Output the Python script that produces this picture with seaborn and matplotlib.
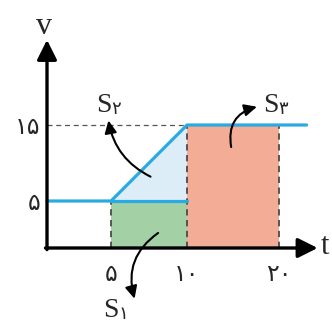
import numpy as np
import matplotlib
matplotlib.use('Agg')
import matplotlib.pyplot as plt
import seaborn as sns

sns.set_style('white')
plt.rcParams['font.family'] = ['DejaVu Sans']

# v(t) 折线
T = [0, 5, 10, 23]
V = [5, 5, 15, 15]

# 刻度
T_TICKS = [5, 10, 20]
T_LABELS = ['۵', '۱۰', '۲۰']
V_TICKS = [5, 15]
V_LABELS = ['۵', '۱۵']

# 面积 S1, S2, S3
S1_T = [5, 10]
S1_V = 5
S2_T = [5, 10, 10]
S2_V = [5, 15, 5]
S3_T = [10, 20]
S3_V = 15

BLUE = '#2aaae2'
GREEN = '#a4d0a6'
LIGHT_BLUE = '#ddedf8'
SALMON = '#f3ac96'

# 原图不是按比例画的，用分段线性的刻度
X_KNOTS, X_PIX = [0, 5, 10, 20], [0, 64, 140, 232]
Y_KNOTS, Y_PIX = [0, 5, 15], [0, 47, 123]


def warp(knots, pix):
    k = np.asarray(knots, float)
    p = np.asarray(pix, float)

    def interp(x, a, b):
        x = np.asarray(x, float)
        lo = (b[1] - b[0]) / (a[1] - a[0])
        hi = (b[-1] - b[-2]) / (a[-1] - a[-2])
        y = np.interp(x, a, b)
        y = np.where(x < a[0], b[0] + (x - a[0]) * lo, y)
        y = np.where(x > a[-1], b[-1] + (x - a[-1]) * hi, y)
        return y

    return (lambda x: interp(x, k, p)), (lambda y: interp(y, p, k))


fx, ix = warp(X_KNOTS, X_PIX)
fy, iy = warp(Y_KNOTS, Y_PIX)

fig = plt.figure(figsize=(3.32, 3.36), dpi=100)
ax = fig.add_axes([0, 0, 1, 1])
ax.set_xscale('function', functions=(fx, ix))
ax.set_yscale('function', functions=(fy, iy))
ax.set_xlim(float(ix(-47)), float(ix(285)))
ax.set_ylim(float(iy(-88)), float(iy(248)))

# 面积
ax.fill_between(S1_T, 0, S1_V, color=GREEN, lw=0, zorder=1)
ax.fill(S2_T, S2_V, color=LIGHT_BLUE, lw=0, zorder=1)
ax.fill_between(S3_T, 0, S3_V, color=SALMON, lw=0, zorder=1)

# 虚线
ax.plot([0, 10], [15, 15], ls=(0, (4, 3)), color='#555555', lw=0.9, zorder=2)
for t, v in [(5, 5), (10, 15), (20, 15)]:
    ax.plot([t, t], [0, v], ls=(0, (3.5, 2.5)), color='#4a4a4a', lw=1.3, zorder=2)

# v(t)
sns.lineplot(x=T, y=V, ax=ax, color=BLUE, lw=2.3, estimator=None, sort=False, zorder=3)
ax.plot(S1_T, [S1_V, S1_V], color=BLUE, lw=2.3, zorder=3)

# 坐标轴箭头
arrow = dict(arrowstyle='-|>,head_length=0.6,head_width=0.3', color='black',
             lw=2.4, mutation_scale=20, shrinkA=0, shrinkB=0)
ax.annotate('', xy=(24.2, 0), xytext=(-0.12, 0), arrowprops=arrow, zorder=4)
ax.annotate('', xy=(0, 26.2), xytext=(0, -0.17), arrowprops=arrow, zorder=4)

for side in ['top', 'right', 'left', 'bottom']:
    ax.spines[side].set_visible(False)
ax.spines['bottom'].set_position(('data', 0))
ax.spines['left'].set_position(('data', 0))
ax.set_xticks(T_TICKS, labels=T_LABELS)
ax.set_yticks(V_TICKS, labels=V_LABELS)
ax.tick_params(axis='x', length=0, pad=10, labelsize=17)
ax.tick_params(axis='y', length=0, pad=5, labelsize=17)
ax.minorticks_off()
ax.set_xlabel('')
ax.set_ylabel('')

serif = dict(family='Liberation Serif')
ax.text(-0.25, 28.0, 'v', ha='center', va='center', fontsize=23, **serif)
ax.text(24.5, 0.2, 't', ha='left', va='center', fontsize=22, **serif)

# S 标签和弯箭头
curve = dict(arrowstyle='-|>,head_length=0.5,head_width=0.24', color='black',
             lw=1.5, mutation_scale=15, shrinkA=0, shrinkB=0)
labels = [
    ('۲', (4.45, 17.6), (7.6, 8.2), (4.8, 15.6), 'arc3,rad=-0.25'),
    ('۳', (19.1, 17.6), (14.8, 12.1), (17.6, 17.4), 'arc3,rad=-0.45'),
    ('۱', (5.0, -6.6), (8.1, 1.6), (6.55, -5.4), 'arc3,rad=0.35'),
]
for sub, pos, tail, head, cs in labels:
    ax.text(pos[0], pos[1], 'S', ha='center', va='center', fontsize=20, **serif)
    ax.annotate(sub, xy=pos, xytext=(9, -3), textcoords='offset points',
                ha='center', va='center', fontsize=13)
    ax.annotate('', xy=head, xytext=tail,
                arrowprops=dict(curve, connectionstyle=cs), zorder=5)

fig.savefig('out.png', dpi=100)
